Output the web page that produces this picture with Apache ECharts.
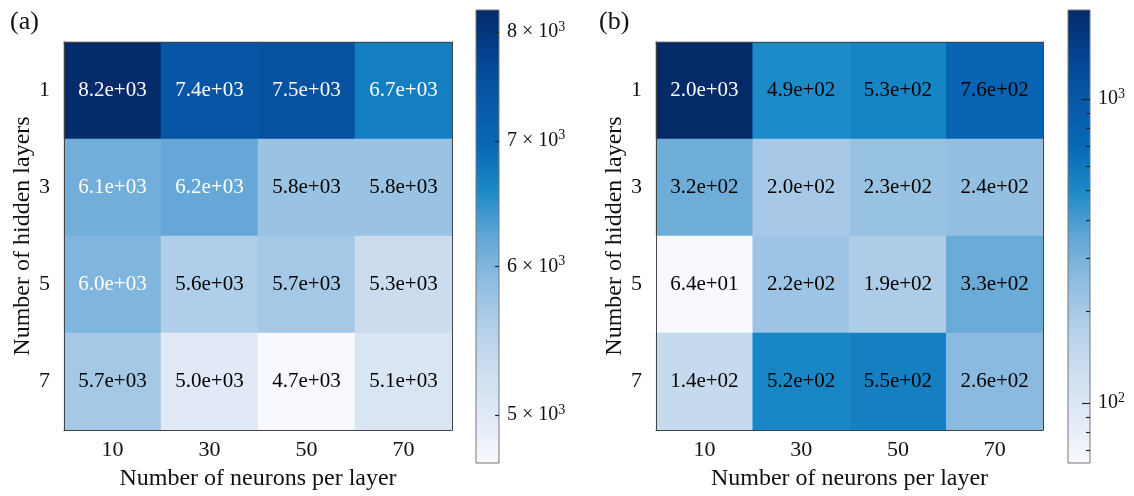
<!DOCTYPE html>
<html>
<head>
<meta charset="utf-8">
<script src="https://cdn.jsdelivr.net/npm/echarts@6/dist/echarts.min.js"></script>
<style>
  html, body { margin: 0; padding: 0; background: #fff; }
  #chart { width: 1134px; height: 496px; }
</style>
</head>
<body>
<div id="chart"></div>
<script>
// Grid-search results: test loss by network width (columns) and depth (rows)
const neurons = ['10', '30', '50', '70'];
const layers = ['1', '3', '5', '7'];

// Panel (a)
const lossA = [
  [8.2e3, 7.4e3, 7.5e3, 6.7e3],
  [6.1e3, 6.2e3, 5.8e3, 5.8e3],
  [6.0e3, 5.6e3, 5.7e3, 5.3e3],
  [5.7e3, 5.0e3, 4.7e3, 5.1e3]
];
// Panel (b)
const lossB = [
  [2.0e3, 4.9e2, 5.3e2, 7.6e2],
  [3.2e2, 2.0e2, 2.3e2, 2.4e2],
  [6.4e1, 2.2e2, 1.9e2, 3.3e2],
  [1.4e2, 5.2e2, 5.5e2, 2.6e2]
];

// Log colour-scale limits and colourbar ticks
const rangeA = [4714, 8219];
const rangeB = [63.5, 1962];
const ticksA = [5000, 6000, 7000, 8000];
const ticksB = [100, 1000];
const minorTicksB = [70, 80, 90, 200, 300, 400, 500, 600, 700, 800, 900];

// Blue colormap, light (low) to dark (high)
const blues = ['#f7f9fe', '#e2eaf6', '#cfdef0', '#b3d0ea', '#8fbde0', '#62a6d6',
               '#1a8ac6', '#0868b5', '#0759a8', '#044290', '#052a68'];

const SERIF = "'Liberation Serif', 'Times New Roman', 'DejaVu Serif', serif";
const INK = '#111';
const FRAME = '#444';

function sci(v) {
  let e = Math.floor(Math.log10(v));
  let m = Math.round(v / Math.pow(10, e) * 10) / 10;
  if (m >= 10) { m /= 10; e += 1; }
  return m.toFixed(1) + 'e+' + String(e).padStart(2, '0');
}

function cells(matrix) {
  const out = [];
  matrix.forEach((row, r) => row.forEach((v, c) => out.push([c, r, v, Math.log10(v)])));
  return out;
}

// Dark cells get white text
function labelFormatter(matrix) {
  const flat = matrix.flat();
  const lo = Math.min(...flat), hi = Math.max(...flat);
  return p => {
    const v = p.value[2];
    const key = (v - lo) / (hi - lo) > 0.365 ? 'w' : 'k';
    return '{' + key + '|' + sci(v) + '}';
  };
}

function heatAxes(gi) {
  const labelStyle = { fontSize: 22, color: INK, fontFamily: SERIF };
  const nameStyle = { fontSize: 24, color: INK, fontFamily: SERIF };
  const frameLine = { show: true, lineStyle: { color: FRAME, width: 1 } };
  return {
    x: [
      {
        type: 'category', gridIndex: gi, data: neurons, z: 10,
        axisLine: frameLine,
        axisTick: { inside: true, alignWithLabel: true, length: 4, lineStyle: { color: FRAME } },
        axisLabel: Object.assign({ margin: 9 }, labelStyle),
        splitLine: { show: false },
        name: 'Number of neurons per layer', nameLocation: 'middle', nameGap: 37,
        nameTextStyle: nameStyle
      },
      {
        type: 'category', gridIndex: gi, data: neurons, position: 'top', z: 10,
        axisLine: frameLine, axisTick: { show: false }, axisLabel: { show: false }
      }
    ],
    y: [
      {
        type: 'category', gridIndex: gi, data: layers, inverse: true, z: 10,
        axisLine: frameLine,
        axisTick: { inside: true, alignWithLabel: true, length: 4, lineStyle: { color: FRAME } },
        axisLabel: Object.assign({ margin: 14 }, labelStyle),
        splitLine: { show: false },
        name: 'Number of hidden layers', nameLocation: 'middle', nameGap: 29,
        nameTextStyle: nameStyle
      },
      {
        type: 'category', gridIndex: gi, data: layers, inverse: true, position: 'right', z: 10,
        axisLine: frameLine, axisTick: { show: false }, axisLabel: { show: false }
      }
    ]
  };
}

const supRich = {
  n: { fontSize: 20, color: INK, fontFamily: SERIF },
  s: { fontSize: 14, color: INK, fontFamily: SERIF, verticalAlign: 'top', padding: [0, 0, 10, 0] }
};

function colorbarAxes(gi, range, majors, formatter, majorLen, minors) {
  const lo = Math.log10(range[0]), hi = Math.log10(range[1]);
  const x = { type: 'value', gridIndex: gi, min: 0, max: 1, show: false };
  const ys = [{
    type: 'value', gridIndex: gi, min: lo, max: hi, position: 'right', z: 10,
    axisLine: { show: false, onZero: false },
    splitLine: { show: false },
    axisTick: { show: true, inside: true, length: majorLen, lineStyle: { color: '#222', width: 1.2 },
                customValues: majors.map(Math.log10) },
    axisLabel: { show: true, margin: 8, customValues: majors.map(Math.log10),
                 formatter: v => formatter(Math.round(Math.pow(10, v))), rich: supRich }
  }];
  if (minors) {
    ys.push({
      type: 'value', gridIndex: gi, min: lo, max: hi, position: 'right', z: 10,
      axisLine: { show: false, onZero: false }, splitLine: { show: false },
      axisTick: { show: true, inside: true, length: 4, lineStyle: { color: '#222', width: 1.2 },
                  customValues: minors.map(Math.log10) },
      axisLabel: { show: false }
    });
  }
  return { x, ys, lo, hi };
}

function colorbarSeries(xi, yi, lo, hi) {
  const stops = blues.slice().reverse().map((c, i, a) => ({ offset: i / (a.length - 1), color: c }));
  return {
    type: 'custom', xAxisIndex: xi, yAxisIndex: yi, silent: true, z: 3,
    data: [[0, lo, 1, hi]],
    renderItem: (params, api) => {
      const p0 = api.coord([api.value(0), api.value(3)]);
      const p1 = api.coord([api.value(2), api.value(1)]);
      return {
        type: 'rect',
        shape: { x: p0[0], y: p0[1], width: p1[0] - p0[0], height: p1[1] - p0[1] },
        style: {
          fill: new echarts.graphic.LinearGradient(0, 0, 0, 1, stops),
          stroke: '#777', lineWidth: 1
        }
      };
    }
  };
}

const axA = heatAxes(0);
const axB = heatAxes(2);
const cbA = colorbarAxes(1, rangeA, ticksA,
  v => '{n|' + (v / 1000) + ' × 10}{s|3}', 4, null);
const cbB = colorbarAxes(3, rangeB, ticksB,
  v => '{n|10}{s|' + Math.round(Math.log10(v)) + '}', 8, minorTicksB);

const cellRich = {
  w: { color: '#fff', fontSize: 21, fontFamily: SERIF },
  k: { color: '#000', fontSize: 21, fontFamily: SERIF }
};

const option = {
  backgroundColor: '#fff',
  animation: false,
  title: [
    { text: '(a)', left: 5, top: 4, textStyle: { fontSize: 26, fontWeight: 'normal', color: INK, fontFamily: SERIF } },
    { text: '(b)', left: 594, top: 4, textStyle: { fontSize: 26, fontWeight: 'normal', color: INK, fontFamily: SERIF } }
  ],
  grid: [
    { left: 64, top: 42, width: 388, height: 389 },
    { left: 476, top: 10, width: 23, height: 453 },
    { left: 656, top: 42, width: 387, height: 388 },
    { left: 1068, top: 10, width: 22, height: 453 }
  ],
  // xAxis order: 0,1 heat a; 2 cbar a; 3,4 heat b; 5 cbar b
  xAxis: [axA.x[0], axA.x[1], cbA.x, axB.x[0], axB.x[1], cbB.x],
  // yAxis order: 0,1 heat a; 2 cbar a; 3,4 heat b; 5,6 cbar b
  yAxis: [axA.y[0], axA.y[1], cbA.ys[0], axB.y[0], axB.y[1], cbB.ys[0], cbB.ys[1]],
  visualMap: [
    { type: 'continuous', show: false, seriesIndex: 0, dimension: 3,
      min: Math.log10(rangeA[0]), max: Math.log10(rangeA[1]), inRange: { color: blues } },
    { type: 'continuous', show: false, seriesIndex: 1, dimension: 3,
      min: Math.log10(rangeB[0]), max: Math.log10(rangeB[1]), inRange: { color: blues } }
  ],
  series: [
    {
      type: 'heatmap', xAxisIndex: 0, yAxisIndex: 0, data: cells(lossA),
      label: { show: true, formatter: labelFormatter(lossA), rich: cellRich },
      emphasis: { disabled: true }
    },
    {
      type: 'heatmap', xAxisIndex: 3, yAxisIndex: 3, data: cells(lossB),
      label: { show: true, formatter: labelFormatter(lossB), rich: cellRich },
      emphasis: { disabled: true }
    },
    colorbarSeries(2, 2, cbA.lo, cbA.hi),
    colorbarSeries(5, 5, cbB.lo, cbB.hi)
  ]
};

const chart = echarts.init(document.getElementById('chart'), null, { renderer: 'canvas' });
chart.setOption(option);
</script>
</body>
</html>
